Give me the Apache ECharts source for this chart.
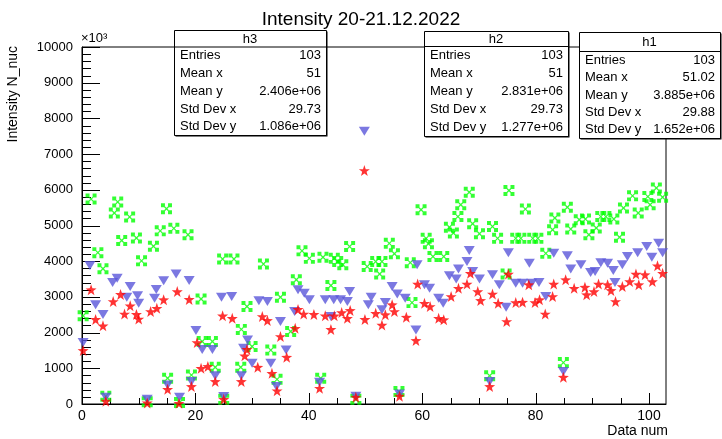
<!DOCTYPE html>
<html>
<head>
<meta charset="utf-8">
<script src="https://cdn.jsdelivr.net/npm/echarts@6/dist/echarts.min.js"></script>
<style>
  html, body { margin: 0; padding: 0; background: #fff; }
  #chart { width: 722px; height: 439px; }
</style>
</head>
<body>
<div id="chart"></div>
<script>
const FONT = '"Liberation Sans", Arial, Helvetica, sans-serif';

// h1: data num and intensity (in units of 10^3)
const h1X = [0.2, 1.6, 2.8, 3.7, 4.2, 5.7, 6.3, 7.0, 8.4, 9.6, 10.5, 11.5, 12.6, 13.8, 14.9, 15.1, 16.2,
  17.2, 18.7, 19.3, 21.0, 21.2, 23.0, 23.5, 24.8, 25.0, 26.8, 28.0, 28.1, 29.1, 30.0, 32.0, 33.3,
  34.4, 35.0, 36.8, 37.8, 38.8, 40.1, 42.1, 42.5, 43.9, 44.5, 45.1, 46.0, 47.2, 48.3, 50.3,
  51.8, 52.5, 52.9, 54.2, 55.1, 55.9, 57.9, 58.2, 59.8, 60.7, 61.1, 61.9, 63.8, 64.8, 65.5, 66.3, 66.8,
  68.3, 68.9, 70.1, 71.9, 72.4, 73.3, 74.8, 75.3, 76.5, 77.4, 78.2, 79.5, 80.4, 81.8, 83.0, 83.4,
  84.9, 85.6, 86.2, 87.7, 88.8, 89.4, 90.7, 91.5, 92.4, 93.8, 94.8, 95.5, 97.1, 98.1, 99.8, 100.2, 101.3, 102.4];
const h1Y = [2470, 5740, 4240, 3790, 220, 5350, 5660, 4580, 5240, 4650, 4010, 60, 4420, 4850, 5470, 720, 4920,
  40, 4740, 810, 2940, 1750, 1750, 1030, 4060, 130, 4060, 1030, 2090, 2730, 1610, 3920, 1510,
  690, 2990, 2030, 3480, 4290, 4080, 720, 4110, 3320, 4080, 3990, 3900, 4410, 130, 3850,
  3990, 3640, 3990, 4500, 4210, 350, 3960, 2840, 5440, 4640, 4490, 4130, 4130, 4950, 4790, 5250, 5580,
  5930, 5050, 4770, 790, 4970, 4640, 3640, 5980, 4640, 4640, 5460, 4640, 4640, 4220, 4880, 5210,
  1160, 5510, 4900, 5160, 5180, 4740, 4930, 5250, 5250, 5180, 4670, 5490, 5830, 5350, 5810, 5580, 6050, 5790];

// h2
const h2X = [0.2, 1.4, 2.4, 3.7, 4.2, 5.4, 6.2, 7.9, 8.5, 9.8, 10.0, 11.5, 12.8, 13.1, 14.4, 15.1, 16.6,
  17.2, 18.9, 19.3, 20.1, 21.2, 23.0, 23.5, 24.6, 25.0, 26.4, 28.1, 28.5, 29.2, 30.0, 31.2, 32.7, 33.3,
  34.3, 35.0, 36.0, 37.5, 38.1, 39.2, 40.1, 41.9, 42.9, 43.9, 44.4, 45.6, 46.8, 47.2, 48.3, 49.8, 50.5,
  51.0, 52.9, 53.5, 54.7, 55.6, 56.0, 57.0, 58.9, 59.1, 60.4, 61.3, 62.9, 63.7, 64.8, 66.0, 66.4,
  67.9, 68.3, 68.9, 70.1, 71.9, 72.4, 73.6, 74.8, 75.2, 76.5, 77.7, 78.9, 79.3, 80.6, 81.8, 83.2,
  84.9, 85.6, 86.2, 88.0, 89.7, 90.5, 91.5, 92.7, 93.7, 94.0, 95.3, 96.2, 98.0, 99.6, 100.5, 101.7, 102.4];
const h2Y = [1720, 3880, 2780, 2510, 190, 3400, 3520, 2990, 3290, 3030, 2820, 130, 2960, 3210, 3450, 530, 3640,
  190, 3460, 630, 2060, 1530, 1530, 790, 2990, 210, 3010, 790, 1560, 1790, 1140, 2890, 2870, 1140,
  490, 2310, 1510, 2590, 3200, 3100, 2920, 610, 2920, 2450, 2920, 2920, 2870, 3150, 220, 7640, 2780,
  2990, 2640, 2840, 3290, 3080, 280, 2960, 2070, 3900, 3340, 3240, 2960, 2820, 3590, 3500, 3780,
  3990, 4300, 3710, 3500, 630, 3620, 3340, 2710, 4240, 3380, 3380, 3940, 3380, 3400, 3010, 4220,
  910, 4150, 3780, 3900, 3680, 3710, 3960, 3940, 3740, 3400, 3900, 4130, 4240, 4410, 4110, 4500, 4240];

// h3
const h3X = [0.2, 1.6, 2.4, 3.7, 4.2, 5.5, 6.8, 7.5, 8.5, 9.6, 10.0, 11.5, 12.1, 13.2, 14.4, 15.1, 16.8,
  17.1, 18.9, 19.3, 20.3, 21.0, 22.2, 23.5, 24.8, 25.0, 26.5, 28.1, 28.7, 29.1, 31.0, 31.8, 32.7, 33.5,
  34.4, 35.0, 36.1, 37.6, 38.1, 39.1, 40.9, 41.9, 42.9, 43.9, 44.5, 45.8, 46.8, 47.3, 48.3, 49.8, 49.9,
  51.8, 52.9, 53.5, 54.7, 55.1, 56.0, 57.2, 58.9, 59.2, 60.4, 61.4, 62.9, 63.8, 65.1, 66.4,
  67.9, 68.5, 69.8, 70.3, 71.9, 72.4, 73.4, 74.9, 75.2, 76.5, 77.7, 78.8, 79.9, 80.7, 81.7, 83.0, 83.2,
  84.9, 85.3, 86.8, 88.7, 89.0, 90.3, 91.1, 92.7, 93.3, 94.1, 95.3, 96.6, 97.7, 98.2, 99.3, 100.6, 101.5, 102.4];
const h3Y = [1500, 3200, 2370, 2190, 80, 2870, 3070, 2520, 2750, 2510, 2380, 30, 2590, 2680, 2920, 410, 3150,
  20, 2930, 490, 1720, 1000, 1050, 630, 2470, 130, 2400, 630, 1350, 1530, 1030, 2450, 2340, 860,
  370, 1890, 1310, 2120, 2650, 2520, 2510, 440, 2470, 2090, 2470, 2560, 2400, 2620, 190, 6540, 2370,
  2540, 2210, 2500, 2780, 2590, 220, 2430, 1780, 3360, 2820, 2730, 2400, 2360, 3010, 3240,
  3360, 3660, 3150, 2900, 490, 3080, 2820, 2310, 3640, 2840, 2850, 3340, 2840, 2920, 2520, 3010, 3360,
  750, 3480, 3240, 3270, 3060, 3150, 3360, 3340, 3180, 2870, 3290, 3430, 3640, 3340, 3620, 3430, 3870, 3660];

// axis tick positions (primary and secondary divisions)
const xMajorTicks = [0, 20, 40, 60, 80, 100];
const xMinorTicks = [5, 10, 15, 25, 30, 35, 45, 50, 55, 65, 70, 75, 85, 90, 95];
const yMajorTicks = [0, 1000, 2000, 3000, 4000, 5000, 6000, 7000, 8000, 9000, 10000];
const yMinorTicks = [200, 400, 600, 800, 1200, 1400, 1600, 1800, 2200, 2400, 2600, 2800,
  3200, 3400, 3600, 3800, 4200, 4400, 4600, 4800, 5200, 5400, 5600, 5800,
  6200, 6400, 6600, 6800, 7200, 7400, 7600, 7800, 8200, 8400, 8600, 8800,
  9200, 9400, 9600, 9800];

// statistics boxes
const statNames = ['Entries', 'Mean x', 'Mean y', 'Std Dev x', 'Std Dev y'];
const h1Stats = ['103', '51.02', '3.885e+06', '29.88', '1.652e+06'];
const h2Stats = ['103', '51', '2.831e+06', '29.73', '1.277e+06'];
const h3Stats = ['103', '51', '2.406e+06', '29.73', '1.086e+06'];

const pair = (xs, ys) => xs.map((x, i) => [x, ys[i]]);

// marker shapes: four squares on the diagonals joined by a thin X, down triangle, five-point star
const FOUR_SQUARES_X = 'path://M0 0L36 0L36 36L0 36Z M64 0L100 0L100 36L64 36Z M0 64L36 64L36 100L0 100Z M64 64L100 64L100 100L64 100Z ' +
  'M30 38L38 30L70 62L62 70Z M62 30L70 38L38 70L30 62Z';
const TRI_DOWN = 'path://M0 0L100 0L50 86Z';
const STAR = 'path://M50 0L61.8 33.8L97.6 34.5L69 56.2L79.4 90.5L50 70L20.6 90.5L31 56.2L2.4 34.5L38.2 33.8Z';

// tick lengths in pixels: x axis (major, minor), y axis (major, minor)
const X_TICK = [11, 6];
const Y_TICK = [18, 9];

function statBox(name, values, x, y, w, h, headH) {
  const rowH = (h - headH) / statNames.length;
  const children = [
    { type: 'rect', shape: { x: x + 1.5, y: y + 1.5, width: w, height: h }, style: { fill: '#000' } },
    { type: 'rect', shape: { x: x + 0.5, y: y + 0.5, width: w, height: h }, style: { fill: '#fff', stroke: '#000', lineWidth: 1 } },
    { type: 'line', shape: { x1: x + 0.5, y1: y + headH + 0.5, x2: x + w + 0.5, y2: y + headH + 0.5 }, style: { stroke: '#000', lineWidth: 1 } },
    { type: 'text', x: x + w / 2, y: y + headH / 2 + 1, style: { text: name, fontFamily: FONT, fontSize: 13, fill: '#000', align: 'center', verticalAlign: 'middle' } }
  ];
  statNames.forEach((label, i) => {
    const cy = y + headH + rowH * (i + 0.5) + 0.5;
    children.push({ type: 'text', x: x + 6, y: cy, style: { text: label, fontFamily: FONT, fontSize: 13, fill: '#000', align: 'left', verticalAlign: 'middle' } });
    children.push({ type: 'text', x: x + w - 5, y: cy, style: { text: values[i], fontFamily: FONT, fontSize: 13, fill: '#000', align: 'right', verticalAlign: 'middle' } });
  });
  return { type: 'group', z: 100, children };
}

// tick marks drawn inward from the bottom and left axes, placed by the axis scales
function xTickItem(params, api) {
  const p = api.coord([api.value(0), 0]);
  const len = api.value(1) === 1 ? X_TICK[0] : X_TICK[1];
  const x = Math.round(p[0]) + 0.5;
  return { type: 'line', shape: { x1: x, y1: p[1], x2: x, y2: p[1] - len }, style: { stroke: '#000', lineWidth: 1 } };
}
function yTickItem(params, api) {
  const p = api.coord([0, api.value(0)]);
  const len = api.value(1) === 1 ? Y_TICK[0] : Y_TICK[1];
  const y = Math.round(p[1]) + 0.5;
  return { type: 'line', shape: { x1: p[0], y1: y, x2: p[0] + len, y2: y }, style: { stroke: '#000', lineWidth: 1 } };
}

const chart = echarts.init(document.getElementById('chart'));

const axisText = { color: '#000', fontFamily: FONT };

chart.setOption({
  animation: false,
  backgroundColor: '#fff',
  title: {
    text: 'Intensity 20-21.12.2022',
    left: 'center',
    top: 5,
    textStyle: { fontFamily: FONT, fontSize: 19, fontWeight: 'normal', color: '#000' }
  },
  grid: { left: 82, right: 56, top: 47, bottom: 35, show: true, borderColor: '#000', borderWidth: 1 },
  xAxis: {
    type: 'value', min: 0, max: 103, interval: 20,
    axisLine: { show: true, lineStyle: { color: '#000', width: 1 } },
    axisTick: { show: false },
    axisLabel: Object.assign({ fontSize: 14, margin: 5, showMaxLabel: false }, axisText),
    splitLine: { show: false }
  },
  yAxis: {
    type: 'value', min: 0, max: 10000, interval: 1000,
    axisLine: { show: true, lineStyle: { color: '#000', width: 1 } },
    axisTick: { show: false },
    axisLabel: Object.assign({ fontSize: 13, margin: 9, formatter: v => String(v) }, axisText),
    splitLine: { show: false }
  },
  series: [
    {
      name: 'xTicks', type: 'custom', silent: true, z: 1,
      data: xMajorTicks.map(v => [v, 1]).concat(xMinorTicks.map(v => [v, 0])),
      encode: { x: 0 },
      renderItem: xTickItem
    },
    {
      name: 'yTicks', type: 'custom', silent: true, z: 1,
      data: yMajorTicks.map(v => [v, 1]).concat(yMinorTicks.map(v => [v, 0])),
      encode: { y: 0 },
      renderItem: yTickItem
    },
    {
      name: 'h1', type: 'scatter', data: pair(h1X, h1Y),
      symbol: FOUR_SQUARES_X, symbolSize: 11,
      itemStyle: { color: '#00ff00' }, z: 2
    },
    {
      name: 'h2', type: 'scatter', data: pair(h2X, h2Y),
      symbol: TRI_DOWN, symbolSize: [11, 9],
      itemStyle: { color: '#5a56da' }, z: 3
    },
    {
      name: 'h3', type: 'scatter', data: pair(h3X, h3Y),
      symbol: STAR, symbolSize: 11,
      itemStyle: { color: '#ff0000' }, z: 4
    }
  ],
  graphic: [
    {
      type: 'text', x: 13, y: 46, rotation: Math.PI / 2, z: 50,
      style: { text: 'Intensity N_nuc', fontFamily: FONT, fontSize: 14, fill: '#000', align: 'right', verticalAlign: 'middle' }
    },
    {
      type: 'text', x: 81, y: 38, z: 50,
      style: { text: '×10³', fontFamily: FONT, fontSize: 13, fill: '#000', align: 'left', verticalAlign: 'middle' }
    },
    {
      type: 'text', x: 668, y: 431, z: 50,
      style: { text: 'Data num', fontFamily: FONT, fontSize: 14, fill: '#000', align: 'right', verticalAlign: 'middle' }
    },
    statBox('h3', h3Stats, 174, 30, 152, 105, 16.5),
    statBox('h2', h2Stats, 424, 31, 144, 105, 15),
    statBox('h1', h1Stats, 579, 32, 141, 106, 19)
  ]
});
</script>
</body>
</html>
